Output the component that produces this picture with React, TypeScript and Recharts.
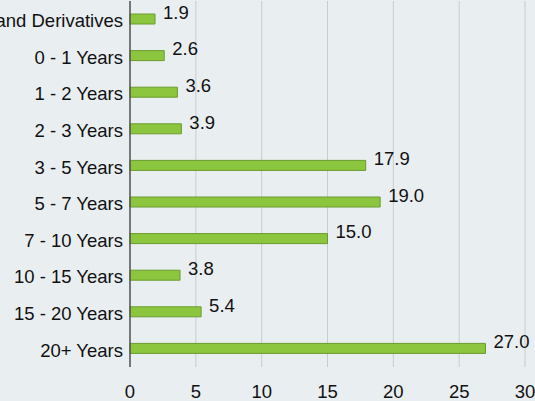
import React from 'react'
import { BarChart, Bar, XAxis, YAxis, CartesianGrid, LabelList } from 'recharts'

// Maturity buckets, top to bottom
const categories = [
	'Cash and Derivatives',
	'0 - 1 Years',
	'1 - 2 Years',
	'2 - 3 Years',
	'3 - 5 Years',
	'5 - 7 Years',
	'7 - 10 Years',
	'10 - 15 Years',
	'15 - 20 Years',
	'20+ Years',
]
const weights = [1.9, 2.6, 3.6, 3.9, 17.9, 19.0, 15.0, 3.8, 5.4, 27.0]
const xTicks = [0, 5, 10, 15, 20, 25, 30]

const data = categories.map((name, i) => ({ name, value: weights[i] }))

const font = '"Liberation Sans", Arial, sans-serif'
const fs = 18.5

const renderLabel = (props: any) => {
	const { x, y, width, height, value } = props
	return (
		<text
			x={x + width + 8}
			y={y + height / 2 - 5}
			fill="#111"
			fontSize={fs}
			fontFamily={font}
			dominantBaseline="middle"
		>
			{Number(value).toFixed(1)}
		</text>
	)
}

// single-line category tick (no wrapping)
const CategoryTick = (props: any) => {
	const { x, y, payload } = props
	return (
		<text
			x={x + 1}
			y={y + 3}
			textAnchor="end"
			dominantBaseline="middle"
			fill="#111"
			fontSize={fs}
			fontFamily={font}
		>
			{payload.value}
		</text>
	)
}

const App = () => {
	return (
		<div style={{ position: 'fixed', left: 0, top: 0, background: '#e9eef1', width: 535, height: 401 }}>
			<BarChart
				width={535}
				height={401}
				data={data}
				layout="vertical"
				margin={{ top: 1, right: 10, left: 0, bottom: 0 }}
				barCategoryGap={0}
			>
				<CartesianGrid
					horizontal={false}
					vertical={true}
					stroke="#c9cccf"
					verticalValues={xTicks}
				/>
				<XAxis
					type="number"
					domain={[0, 30]}
					ticks={xTicks}
					axisLine={false}
					tickLine={false}
					height={34}
					tick={{ fontSize: fs, fill: '#111', fontFamily: font }}
					tickMargin={12}
					interval={0}
				/>
				<YAxis
					type="category"
					dataKey="name"
					width={130}
					axisLine={{ stroke: '#555', strokeWidth: 1.5 }}
					tickLine={false}
					tick={<CategoryTick />}
					interval={0}
				/>
				<Bar
					dataKey="value"
					fill="#8cc63f"
					stroke="#6a9c2c"
					strokeWidth={1}
					barSize={10}
					isAnimationActive={false}
				>
					<LabelList dataKey="value" content={renderLabel} />
				</Bar>
			</BarChart>
		</div>
	)
}

export default App
